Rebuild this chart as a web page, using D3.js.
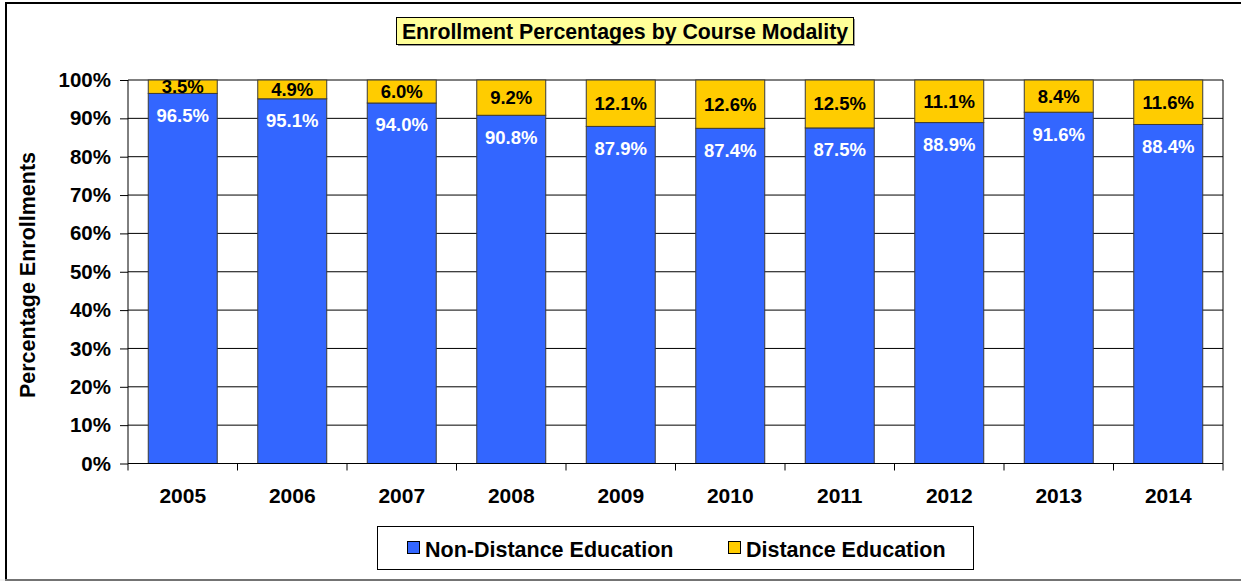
<!DOCTYPE html>
<html lang="en">
<head>
<meta charset="UTF-8">
<title>Enrollment Percentages by Course Modality</title>
<script src="https://d3js.org/d3.v7.min.js"></script>
<style>
  body { margin: 0; background: #fff; }
  svg text { font-family: "Liberation Sans", Arial, sans-serif; font-weight: bold; }
</style>
</head>
<body>
<div id="chart"></div>
<script>
// data
var years = ["2005", "2006", "2007", "2008", "2009", "2010", "2011", "2012", "2013", "2014"];
var nonDistance = [96.5, 95.1, 94.0, 90.8, 87.9, 87.4, 87.5, 88.9, 91.6, 88.4];
var distance = [3.5, 4.9, 6.0, 9.2, 12.1, 12.6, 12.5, 11.1, 8.4, 11.6];
var seriesNames = ["Non-Distance Education", "Distance Education"];
var seriesColors = ["#3366FF", "#FFCC00"];
var yTicks = [0, 10, 20, 30, 40, 50, 60, 70, 80, 90, 100];

var width = 1241, height = 581;
var plot = {left: 128, right: 1223, top: 80, bottom: 463.5};

var svg = d3.select("#chart").append("svg")
    .attr("width", width)
    .attr("height", height);

// outer frame
svg.append("rect")
    .attr("x", 6).attr("y", 3)
    .attr("width", 1245).attr("height", 577)
    .attr("fill", "#fff")
    .attr("stroke", "#000")
    .attr("stroke-width", 2);
svg.append("line")
    .attr("x1", 0).attr("x2", width)
    .attr("y1", 580).attr("y2", 580)
    .attr("stroke", "#e6e6e6");

var x = d3.scaleBand()
    .domain(years)
    .range([plot.left, plot.right])
    .paddingInner(0.37)
    .paddingOuter(0.185);

var xOuter = d3.scaleBand()
    .domain(years)
    .range([plot.left, plot.right]);

var y = d3.scaleLinear()
    .domain([0, 100])
    .range([plot.bottom, plot.top]);

// gridlines
svg.append("g")
    .selectAll("line")
    .data(yTicks)
    .join("line")
    .attr("x1", plot.left).attr("x2", plot.right)
    .attr("y1", function(d) { return y(d); })
    .attr("y2", function(d) { return y(d); })
    .attr("stroke", "#000")
    .attr("stroke-width", 1);

// right border of plot area
svg.append("line")
    .attr("x1", plot.right).attr("x2", plot.right)
    .attr("y1", plot.top).attr("y2", plot.bottom)
    .attr("stroke", "#000");

// stacked bars
var rows = years.map(function(yr, i) {
    return {year: yr, nd: nonDistance[i], de: distance[i]};
});
var stack = d3.stack().keys(["nd", "de"]);
var layers = stack(rows);

svg.append("g")
    .selectAll("g")
    .data(layers)
    .join("g")
    .attr("fill", function(d, i) { return seriesColors[i]; })
    .selectAll("rect")
    .data(function(d) { return d; })
    .join("rect")
    .attr("x", function(d) { return x(d.data.year); })
    .attr("width", x.bandwidth())
    .attr("y", function(d) { return y(d[1]); })
    .attr("height", function(d) { return y(d[0]) - y(d[1]); })
    .attr("stroke", "#3a3a3a")
    .attr("stroke-width", 1);

// value labels
svg.append("g")
    .selectAll("text")
    .data(rows)
    .join("text")
    .attr("x", function(d) { return x(d.year) + x.bandwidth() / 2; })
    .attr("y", function(d) { return y(d.nd) + 22; })
    .attr("dy", "0.35em")
    .attr("text-anchor", "middle")
    .attr("font-size", 18.5)
    .attr("fill", "#fff")
    .text(function(d) { return d.nd.toFixed(1) + "%"; });

svg.append("g")
    .selectAll("text")
    .data(rows)
    .join("text")
    .attr("x", function(d) { return x(d.year) + x.bandwidth() / 2; })
    .attr("y", function(d) { return (y(d.nd) + y(100)) / 2; })
    .attr("dy", "0.35em")
    .attr("text-anchor", "middle")
    .attr("font-size", 18.5)
    .attr("fill", "#000")
    .text(function(d) { return d.de.toFixed(1) + "%"; });

// y axis
var yAxis = svg.append("g")
    .attr("transform", "translate(" + plot.left + ",0)")
    .call(d3.axisLeft(y)
        .tickValues(yTicks)
        .tickSize(8)
        .tickPadding(9)
        .tickFormat(function(d) { return d + "%"; }));
yAxis.select(".domain").attr("stroke", "#000").attr("d", "M0," + plot.top + "V" + plot.bottom);
yAxis.selectAll("line").attr("stroke", "#000");
yAxis.selectAll("text")
    .attr("font-size", 20.5)
    .attr("font-family", "Liberation Sans, Arial, sans-serif")
    .attr("fill", "#000");

// x axis: ticks at category boundaries
var xAxis = svg.append("g")
    .attr("transform", "translate(0," + plot.bottom + ")");
xAxis.append("line")
    .attr("x1", plot.left).attr("x2", plot.right)
    .attr("stroke", "#000");
xAxis.selectAll(".tick")
    .data(years.concat(["end"]))
    .join("line")
    .attr("class", "tick")
    .attr("x1", function(d, i) { return i < years.length ? xOuter(d) : plot.right; })
    .attr("x2", function(d, i) { return i < years.length ? xOuter(d) : plot.right; })
    .attr("y1", 0).attr("y2", 7)
    .attr("stroke", "#000");
xAxis.selectAll("text")
    .data(years)
    .join("text")
    .attr("x", function(d) { return x(d) + x.bandwidth() / 2; })
    .attr("y", 39.5)
    .attr("text-anchor", "middle")
    .attr("font-size", 21)
    .attr("fill", "#000")
    .text(function(d) { return d; });

// y axis title
svg.append("text")
    .attr("transform", "translate(35,275) rotate(-90)")
    .attr("text-anchor", "middle")
    .attr("font-size", 21.5)
    .attr("fill", "#000")
    .text("Percentage Enrollments");

// title box
var title = svg.append("g");
title.append("rect")
    .attr("x", 398).attr("y", 19)
    .attr("width", 457).attr("height", 27)
    .attr("fill", "#999");
title.append("rect")
    .attr("x", 396.5).attr("y", 17.5)
    .attr("width", 457).attr("height", 27)
    .attr("fill", "#FFFF99")
    .attr("stroke", "#000");
title.append("text")
    .attr("x", 625).attr("y", 31.5)
    .attr("dy", "0.35em")
    .attr("text-anchor", "middle")
    .attr("font-size", 21.3)
    .attr("fill", "#000")
    .text("Enrollment Percentages by Course Modality");

// legend
var legend = svg.append("g");
legend.append("rect")
    .attr("x", 377.5).attr("y", 526.5)
    .attr("width", 596).attr("height", 43)
    .attr("fill", "#fff")
    .attr("stroke", "#000");
var legendX = [407, 728];
var items = legend.selectAll("g")
    .data(seriesNames)
    .join("g")
    .attr("transform", function(d, i) { return "translate(" + legendX[i] + ",548)"; });
items.append("rect")
    .attr("x", 0.5).attr("y", -6.5)
    .attr("width", 12).attr("height", 12)
    .attr("fill", function(d, i) { return seriesColors[i]; })
    .attr("stroke", "#000");
items.append("text")
    .attr("x", 18).attr("y", 1)
    .attr("dy", "0.35em")
    .attr("font-size", 21.5)
    .attr("fill", "#000")
    .text(function(d) { return d; });
</script>
</body>
</html>
